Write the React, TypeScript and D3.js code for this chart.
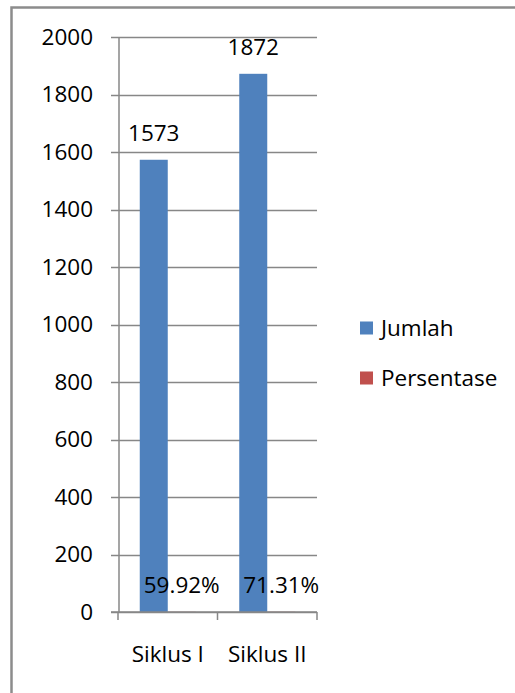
import React from "react";
import * as d3 from "d3";

const categories = ["Siklus I", "Siklus II"];
const seriesNames = ["Jumlah", "Persentase"];
const jumlah = [1573, 1872];
const persentase = [0.5992, 0.7131];
const yTicks = [0, 200, 400, 600, 800, 1000, 1200, 1400, 1600, 1800, 2000];
const colors = ["#4F81BD", "#C0504D"];

const W = 515;
const H = 693;
const FONT = "'Open Sans', Lato, sans-serif";
const FS = 22.5;

export default function App() {
  const y = d3.scaleLinear().domain([0, 2000]).range([612, 37]);
  const x = d3.scaleBand<string>().domain(categories).range([118, 317]).paddingInner(0).paddingOuter(0);
  const xs = d3.scaleBand<string>().domain(seriesNames).range([0, x.step()]).paddingInner(0).paddingOuter(0.777);
  const seriesValues = [jumlah, persentase];
  const fmtPct = d3.format(".2%");
  const gridColor = "#878787";

  return (
    <svg width={W} height={H} style={{ position: "absolute", left: 0, top: 0, fontFamily: FONT }}>
      <rect x={0} y={0} width={W} height={H} fill="#fff" />
      <rect x={11.5} y={7.5} width={W + 20} height={H + 20} fill="none" stroke="#8c8c8c" strokeWidth={2.5} />
      {/* gridlines */}
      {yTicks.map((t) => (
        <line key={"g" + t} x1={111} x2={317} y1={Math.round(y(t)) + 0.5} y2={Math.round(y(t)) + 0.5} stroke={gridColor} strokeWidth={1.5} />
      ))}
      {/* y axis */}
      <line x1={119} x2={119} y1={y(2000)} y2={y(0)} stroke={gridColor} strokeWidth={1.5} />
      {yTicks.map((t) => (
        <text key={"yl" + t} x={93} y={y(t)} dy="0.35em" textAnchor="end" fontSize={FS} fill="#000">
          {t}
        </text>
      ))}
      {/* bars */}
      {seriesValues.map((vals, si) =>
        vals.map((v, ci) => {
          const bx = (x(categories[ci]) as number) + (xs(seriesNames[si]) as number);
          const by = y(v);
          return (
            <rect key={`b${si}-${ci}`} x={bx} y={by} width={xs.bandwidth()} height={y(0) - by} fill={colors[si]} />
          );
        })
      )}
      {/* x axis */}
      <line x1={111} x2={317} y1={y(0)} y2={y(0)} stroke={gridColor} strokeWidth={1.5} />
      {[...categories.map((c) => x(c) as number), 317].map((tx, i) => (
        <line key={"xt" + i} x1={tx} x2={tx} y1={y(0)} y2={y(0) + 8} stroke={gridColor} strokeWidth={1.5} />
      ))}
      {categories.map((c) => (
        <text key={"xl" + c} x={(x(c) as number) + x.bandwidth() / 2} y={662} textAnchor="middle" fontSize={FS} fill="#000">
          {c}
        </text>
      ))}
      {/* data labels */}
      {seriesValues.map((vals, si) =>
        vals.map((v, ci) => {
          const cx = (x(categories[ci]) as number) + (xs(seriesNames[si]) as number) + xs.bandwidth() / 2;
          return (
            <text key={`l${si}-${ci}`} x={cx} y={y(v) - 19} textAnchor="middle" fontSize={FS} fill="#000">
              {si === 0 ? String(v) : fmtPct(v)}
            </text>
          );
        })
      )}
      {/* legend */}
      {seriesNames.map((s, i) => (
        <g key={"lg" + s} transform={`translate(360, ${328 + i * 50})`}>
          <rect x={0} y={-6.5} width={13} height={13} fill={colors[i]} />
          <text x={21} y={0} dy="0.35em" fontSize={FS} fill="#000">
            {s}
          </text>
        </g>
      ))}
    </svg>
  );
}
